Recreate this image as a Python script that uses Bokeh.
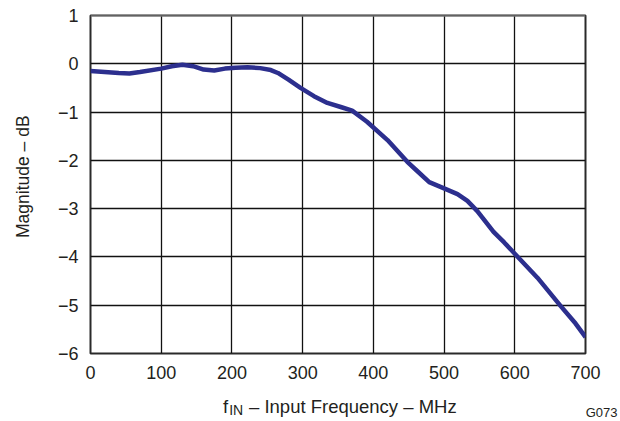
import math
from bokeh.plotting import figure
from bokeh.models import Span, FixedTicker, Range1d, LinearAxis, Title
from bokeh.embed import file_html
from bokeh.resources import INLINE

freq_mhz = [0, 20, 40, 55, 70, 100, 115, 130, 145, 160, 175, 190, 205, 222, 240,
            255, 265, 280, 297, 316, 335, 355, 370, 391, 420, 448, 462, 479, 500,
            519, 533, 547, 570, 585, 603, 632, 665, 686, 698, 700]
magnitude_db = [-0.15, -0.17, -0.19, -0.20, -0.17, -0.10, -0.05, -0.02, -0.05, -0.12,
                -0.14, -0.10, -0.08, -0.07, -0.09, -0.13, -0.19, -0.33, -0.50, -0.67,
                -0.81, -0.90, -0.97, -1.20, -1.58, -2.03, -2.22, -2.45, -2.58, -2.70,
                -2.84, -3.05, -3.48, -3.70, -3.98, -4.43, -5.02, -5.38, -5.62, -5.66]
x_ticks = [0, 100, 200, 300, 400, 500, 600, 700]
y_ticks = [-6, -5, -4, -3, -2, -1, 0, 1]

y_title = "Magnitude \u2013 dB"
x_title_main = "f"
x_title_sub = "IN"
x_title_rest = "\u2013 Input Frequency \u2013 MHz"
figure_id = "G073"

FONT = "Liberation Sans"
TXT = "#231f20"

FL, FT, FW, FH = 90, 15, 495, 338
W, H = 618, 421

p = figure(width=W, height=H, output_backend="svg", toolbar_location=None,
           x_range=Range1d(0, 700), y_range=Range1d(-6, 1),
           min_border_left=FL, min_border_top=FT,
           min_border_right=W - FL - FW, min_border_bottom=H - FT - FH)
p.outline_line_color = "#2a2a2a"
p.outline_line_width = 2
p.background_fill_color = "white"
p.border_fill_color = "white"


def plain(ax, size):
    ax.axis_line_color = None
    ax.major_tick_line_color = None
    ax.minor_tick_line_color = None
    ax.major_tick_out = 0
    ax.major_tick_in = 0
    ax.minor_tick_out = 0
    ax.minor_tick_in = 0
    ax.major_label_text_font = FONT
    ax.major_label_text_font_size = size
    ax.major_label_text_color = TXT


plain(p.xaxis[0], "18px")
plain(p.yaxis[0], "18px")
p.xaxis[0].ticker = FixedTicker(ticks=x_ticks)
p.yaxis[0].ticker = FixedTicker(ticks=y_ticks)
p.xaxis[0].major_label_standoff = 12
p.yaxis[0].major_label_standoff = 12
p.yaxis[0].major_label_overrides = {t: str(t).replace("-", "\u2212") for t in y_ticks}

p.xgrid[0].ticker = FixedTicker(ticks=x_ticks)
p.ygrid[0].ticker = FixedTicker(ticks=y_ticks)
for g in (p.xgrid[0], p.ygrid[0]):
    g.grid_line_color = "#111111"
    g.grid_line_width = 1.3
    g.grid_line_alpha = 1

p.add_layout(Span(location=1, dimension="width", line_color="#9a9a9a", line_width=2))

p.line(freq_mhz, magnitude_db, line_color="#2c2f8e", line_width=4.5, line_join="round")


def dx(px):
    return round((px - FL) * 700.0 / FW)


def dy(py):
    return round(1 - (py - FT) * 7.0 / FH, 2)


# y axis title: rotated label of an extra left axis, anchored at its top end
yt = dy(115)
ytitle_axis = LinearAxis(ticker=FixedTicker(ticks=[yt]),
                         major_label_overrides={yt: y_title},
                         major_label_orientation=math.pi / 2,
                         major_label_standoff=31)
plain(ytitle_axis, "17.5px")
p.add_layout(ytitle_axis, "left")

# x axis title: subscript row first, then the "f ... MHz" row pulled back up
x_sub = dx(236)
sub_axis = LinearAxis(ticker=FixedTicker(ticks=[x_sub]),
                      major_label_overrides={x_sub: x_title_sub},
                      major_label_standoff=20)
plain(sub_axis, "14px")
p.add_layout(sub_axis, "below")

x_f, x_rest = dx(225.3), dx(352.5)
main_axis = LinearAxis(ticker=FixedTicker(ticks=[x_f, x_rest]),
                       major_label_overrides={x_f: x_title_main, x_rest: x_title_rest},
                       major_label_standoff=-25)
plain(main_axis, "18.5px")
p.add_layout(main_axis, "below")

p.add_layout(Title(text=figure_id, align="right", vertical_align="top", offset=-32,
                   standoff=-31, text_font=FONT, text_font_size="13px",
                   text_font_style="normal", text_color=TXT), "below")

open("out.html", "w").write(file_html(p, INLINE))
